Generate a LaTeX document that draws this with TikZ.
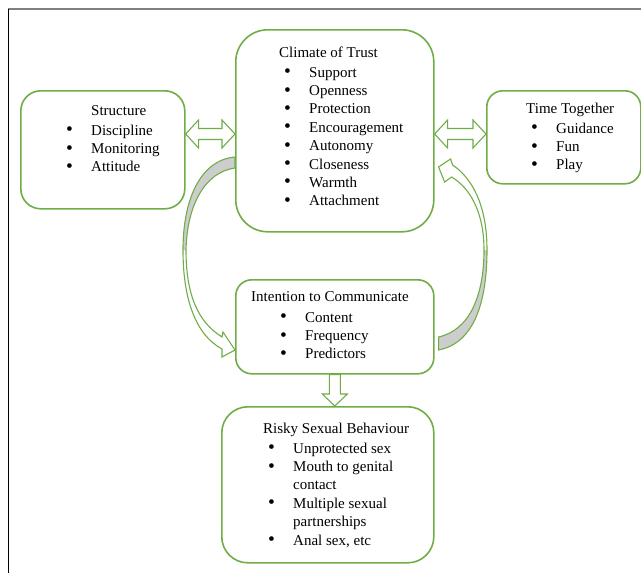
\documentclass[tikz,border=0pt]{standalone}
\usepackage{fontspec}
\usepackage{graphicx}
\setmainfont{Liberation Serif}
\usetikzlibrary{calc}
\definecolor{leafgreen}{RGB}{112,173,71}
\definecolor{backgray}{RGB}{205,205,205}
\newcommand{\bul}[1]{\makebox[25pt][l]{\raisebox{-0.6pt}{\scalebox{1.3}{\textbullet}}}#1}
\newcommand{\twoway}[2]{%
  \draw[blockarrow] let \p1=(#1), \p2=(#2) in
    (\x1,\y1) -- (\x1+13pt,\y1+14pt) -- (\x1+13pt,\y1+5.5pt) -- (\x2-13pt,\y1+5.5pt)
    -- (\x2-13pt,\y1+14pt) -- (\x2,\y1) -- (\x2-13pt,\y1-14pt) -- (\x2-13pt,\y1-5.5pt)
    -- (\x1+13pt,\y1-5.5pt) -- (\x1+13pt,\y1-14pt) -- cycle;}
\newcommand{\itemlist}[1]{\begin{tabular}[t]{@{}l@{}}#1\end{tabular}}
\tikzset{every picture/.append style={x=1pt, y=-1pt}}
\tikzset{
    box/.style={draw=leafgreen, line width=1.6pt, anchor=north west,
        inner sep=0pt, rounded corners=#1},
    box/.default=20pt,
    heading/.style={anchor=base west, inner sep=0pt,
        font=\fontsize{15}{18.4}\selectfont},
    items/.style={anchor=base west, inner sep=0pt,
        font=\fontsize{15}{18.4}\selectfont},
    blockarrow/.style={draw=leafgreen, line width=1.1pt, line join=miter, fill=white},
    curvearrow/.style={draw=leafgreen, line width=1.1pt, line join=miter},
    bandfill/.style={fill=backgray}
}

\begin{document}
\begin{tikzpicture}
  \useasboundingbox (0,0) rectangle (641,573);
  \draw[gray, line width=1.5pt] (8,9) -- (641,9);
  \draw[black, line width=0.8pt] (8,9) -- (8,573);

  \node (trust) [box=32pt, minimum width=198pt, minimum height=202pt] at (235,29) {};
  \node (structure) [box=20pt, minimum width=164pt, minimum height=118pt] at (20,90) {};
  \node (time) [box=16pt, minimum width=154pt, minimum height=93pt] at (486,90) {};
  \node (intention) [box=16pt, minimum width=198pt, minimum height=94pt] at (235,279) {};
  \node (risky) [box=26pt, minimum width=212pt, minimum height=156pt] at (221,406) {};

  \node (trust-title) [heading] at (279,57.5) {Climate of Trust};
  \node (trust-list) [items] at (284,77) {\itemlist{\bul{Support}\\ \bul{Openness}\\
    \bul{Protection}\\ \bul{Encouragement}\\ \bul{Autonomy}\\ \bul{Closeness}\\
    \bul{Warmth}\\ \bul{Attachment}}};
  \node (structure-title) [heading] at (91,115.5) {Structure};
  \node (structure-list) [items] at (66,135) {\itemlist{\bul{Discipline}\\
    \bul{Monitoring}\\ \bul{Attitude}}};
  \node (time-title) [heading] at (526,113.5) {Time Together};
  \node (time-list) [items] at (531,133) {\itemlist{\bul{Guidance}\\ \bul{Fun}\\
    \bul{Play}}};
  \node (intention-title) [heading] at (251,301.5) {Intention to Communicate};
  \node (intention-list) [items] at (280,322) {\itemlist{\bul{Content}\\
    \bul{Frequency}\\ \bul{Predictors}}};
  \node (risky-title) [heading] at (263,433.5) {Risky Sexual Behaviour};
  \node (risky-list) [items] at (268,453) {\itemlist{\bul{Unprotected sex}\\
    \bul{Mouth to genital}\\ \hspace*{25pt}contact\\ \bul{Multiple sexual}\\
    \hspace*{25pt}partnerships\\ \bul{Anal sex, etc}}};

  \coordinate (lane) at (0,134);
  \twoway{structure.east |- lane}{trust.west}
  \twoway{trust.east |- lane}{time.west}

  \draw[blockarrow] let \p1=(intention.south), \p2=(risky.north) in
    (\x1-5.5pt,\y1) -- (\x1+5.5pt,\y1) -- (\x1+5.5pt,\y2+12pt) -- (\x1+12.5pt,\y2+12pt)
    -- (\x1,\y2) -- (\x1-12.5pt,\y2+12pt) -- (\x1-5.5pt,\y2+12pt) -- cycle;

  % curved arrows
  \coordinate (l-top) at ($(trust.north west)+(0,128)$);
  \coordinate (l-bot) at ($(trust.north west)+(0,139)$);
  \coordinate (l-tip) at ($(intention.north west)+(0,71)$);
  \coordinate (r-top) at ($(intention.north east)+(4,58)$);
  \coordinate (r-bot) at ($(intention.north east)+(4,71)$);
  \coordinate (r-tip) at ($(trust.north east)+(4,138)$);

  \fill[bandfill] (l-top) .. controls (200,160) and (183,200) .. (183,250)
    -- (186,250) .. controls (187,205) and (205,172) .. (l-bot) -- cycle;
  \draw[curvearrow] (l-top) .. controls (200,160) and (183,200) .. (183,250)
    .. controls (183,300) and (196,335) .. ($(l-tip)+(-13,-1)$)
    -- ($(l-tip)+(-13,7)$) -- (l-tip) -- ($(l-tip)+(-12,-18)$) -- ($(l-tip)+(-13,-13)$)
    .. controls (198,322) and (186,295) .. (186,250)
    .. controls (187,205) and (205,172) .. (l-bot) -- cycle;

  \fill[bandfill] (r-bot) .. controls (475,343) and (487,300) .. (487,250)
    -- (484,250) .. controls (484,295) and (470,330) .. (r-top) -- cycle;
  \draw[curvearrow] (r-bot) .. controls (475,343) and (487,300) .. (487,250)
    .. controls (487,205) and (472,178) .. ($(r-tip)+(14,-2)$)
    -- ($(r-tip)+(12,-8)$) -- (r-tip) -- ($(r-tip)+(6,15)$) -- ($(r-tip)+(13,10)$)
    .. controls (470,188) and (484,212) .. (484,250)
    .. controls (484,295) and (470,330) .. (r-top) -- cycle;
\end{tikzpicture}
\end{document}
